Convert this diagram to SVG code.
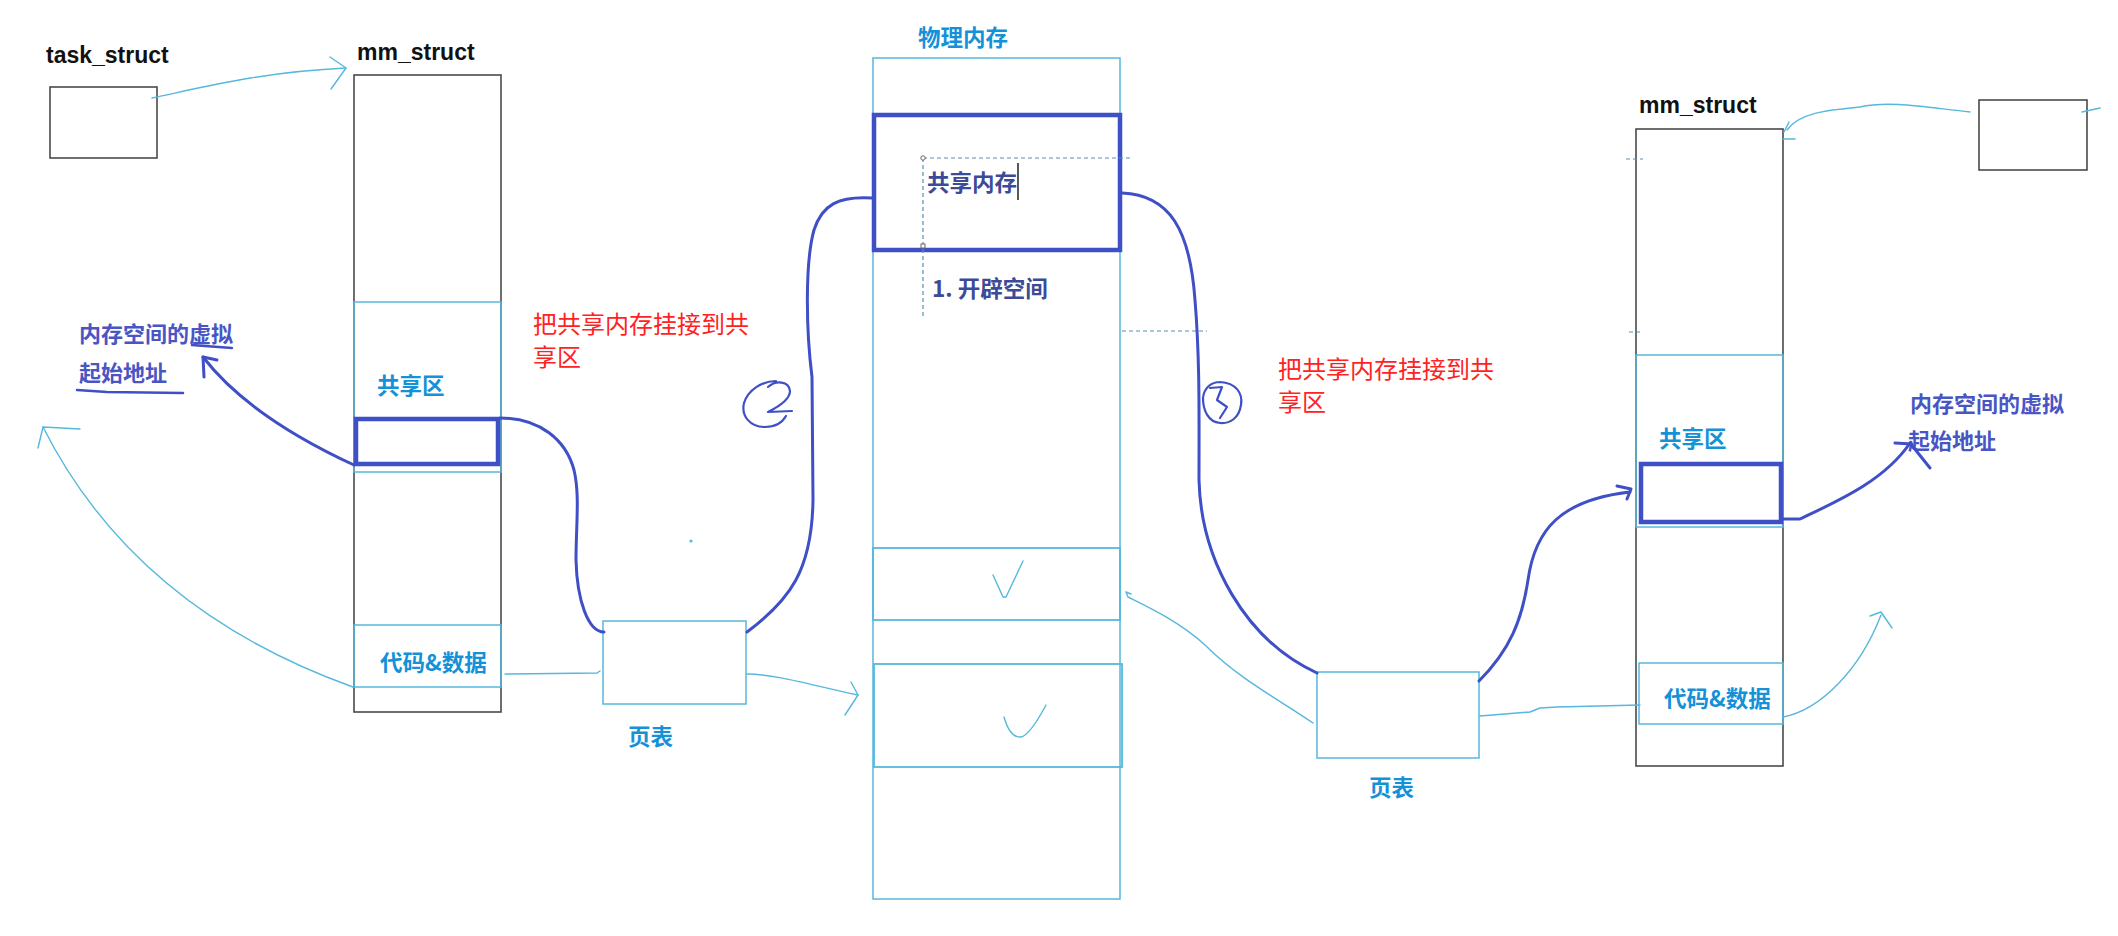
<svg xmlns="http://www.w3.org/2000/svg" width="2118" height="936" viewBox="0 0 2118 936">
<style>
.bg{fill:#ffffff}
.gray{fill:none;stroke:#4a4a4a;stroke-width:1.6}
.lb{fill:none;stroke:#55b8dc;stroke-width:1.5}
.ind{fill:none;stroke:#3f4fc6;stroke-width:4.5}
.hand{fill:none;stroke:#3f4fc6;stroke-width:3;stroke-linecap:round;stroke-linejoin:round}
.thin{fill:none;stroke:#55b8dc;stroke-width:1.4;stroke-linecap:round;stroke-linejoin:round}
.dash{fill:none;stroke:#5a8fb0;stroke-width:1.2;stroke-dasharray:4 3}
.en{font-family:"Liberation Sans",Arial,sans-serif;font-weight:bold;font-size:23px;fill:#111}
.lbl{font-family:"Noto Sans CJK SC","Noto Sans",sans-serif;font-weight:bold;font-size:22.5px;fill:#1591d8}
.ann{font-family:"Noto Sans CJK SC","Noto Sans",sans-serif;font-weight:bold;font-size:22px;fill:#4a55c4}
.dk{font-family:"Noto Sans CJK SC","Noto Sans",sans-serif;font-weight:bold;font-size:22.5px;fill:#3c4a98}
.red{font-family:"Noto Sans CJK SC","Noto Sans",sans-serif;font-size:24px;fill:#ff2222}
</style>
<rect class="bg" x="0" y="0" width="2118" height="936"/>

<g id="task_struct_left">
<text class="en" x="46" y="63">task_struct</text>
<rect class="gray" x="50" y="87" width="107" height="71"/>
</g>

<g id="mm_struct_left">
<text class="en" x="357" y="60">mm_struct</text>
<rect class="gray" x="354" y="75" width="147" height="637"/>
<rect class="lb" x="354" y="302" width="147" height="170"/>
<text class="lbl" x="377" y="394">共享区</text>
<rect class="ind" x="356" y="419" width="142" height="45"/>
<rect class="lb" x="354" y="625" width="147" height="62"/>
<text class="lbl" x="380" y="671">代码&amp;数据</text>
</g>

<g id="annotation_left">
<text class="ann" x="79" y="342">内存空间的虚拟</text>
<text class="ann" x="79" y="381">起始地址</text>
<path class="hand" style="stroke-width:2.5" d="M192,345 L205,346 L232,348"/>
<path class="hand" style="stroke-width:2.5" d="M77,390 L107,392 L183,393"/>
</g>

<g id="red_note_left">
<text class="red" x="533" y="333">把共享内存挂接到共</text>
<text class="red" x="533" y="366">享区</text>
</g>

<g id="page_table_left">
<rect class="lb" x="603" y="621" width="143" height="83"/>
<text class="lbl" x="628" y="745">页表</text>
</g>

<g id="phys_mem">
<text class="lbl" x="918" y="46">物理内存</text>
<rect class="lb" x="873" y="58" width="247" height="841"/>
<rect class="ind" x="874" y="115" width="246" height="135"/>
<path class="dash" d="M923,158 L1133,158 M923,158 L923,317 M1122,331 L1207,331"/>
<circle cx="923" cy="158" r="2.2" fill="#fff" stroke="#666" stroke-width="1"/>
<rect x="921" y="244" width="4" height="4" fill="#fff" stroke="#666" stroke-width="1"/>
<text class="dk" x="927" y="191">共享内存</text>
<line x1="1018" y1="163" x2="1018" y2="200" stroke="#222" stroke-width="1.5"/>
<text class="dk" x="932" y="297">1. 开辟空间</text>
<rect class="lb" x="873" y="548" width="247" height="72" style="stroke-width:1.8"/>
<rect class="lb" x="874" y="664" width="248" height="103" style="stroke-width:1.8"/>
<path class="thin" d="M993,575 L1003,597 L1006,597 L1023,561"/>
<path class="thin" d="M1004,717 Q1010,738 1021,737 Q1030,735 1046,705"/>
</g>

<g id="red_note_right">
<text class="red" x="1278" y="378">把共享内存挂接到共</text>
<text class="red" x="1278" y="411">享区</text>
</g>

<g id="page_table_right">
<rect class="lb" x="1317" y="672" width="162" height="86"/>
<text class="lbl" x="1369" y="796">页表</text>
</g>

<g id="mm_struct_right">
<text class="en" x="1639" y="113">mm_struct</text>
<rect class="gray" x="1636" y="129" width="147" height="637"/>
<rect class="lb" x="1636" y="355" width="147" height="172"/>
<text class="lbl" x="1659" y="447">共享区</text>
<rect class="ind" x="1641" y="464" width="140" height="58"/>
<rect class="lb" x="1639" y="663" width="144" height="61"/>
<text class="lbl" x="1664" y="707">代码&amp;数据</text>
<path class="dash" d="M1626,159 L1643,159 M1629,332 L1640,332"/>
</g>

<g id="annotation_right">
<text class="ann" x="1910" y="412">内存空间的虚拟</text>
<text class="ann" x="1908" y="449">起始地址</text>
</g>

<g id="task_struct_right">
<rect class="gray" x="1979" y="100" width="108" height="70"/>
</g>

<g id="connectors">
<!-- task_struct -> mm_struct (left) -->
<path class="thin" d="M152,98 C200,88 260,72 346,68"/>
<path class="thin" d="M330,57 L346,68 L331,89"/>
<!-- left shared region -> virtual start address -->
<path class="hand" d="M354,465 C300,440 240,405 203,357"/>
<path class="hand" d="M204,377 L203,357 L217,360"/>
<!-- left code&data -> up-left arrow -->
<path class="thin" d="M353,687 C250,650 120,580 43,427"/>
<path class="thin" d="M80,429 L43,427 L38,448"/>
<!-- left shared region -> left page table -->
<path class="hand" d="M500,418 C540,418 566,440 574,470 C580,495 576,525 576,560 C577,600 588,632 604,632"/>
<!-- left code&data -> left page table -->
<path class="thin" d="M505,674 L597,673 L600,671"/>
<!-- left page table -> phys memory section 2 -->
<path class="thin" d="M747,674 C775,674 815,686 858,695"/>
<path class="thin" d="M851,682 L858,695 L845,715"/>
<!-- curve 2: left page table -> shared memory -->
<path class="hand" d="M747,632 C790,600 812,570 813,500 L812,377 C806,330 805,262 814,230 C822,205 838,196 872,198"/>
<path class="hand" style="stroke-width:2.2" d="M776,381 C762,381 748,390 744,403 C741,416 750,427 765,427 C775,427 782,423 786,416 M768,387 C776,380 789,381 790,391 C790,400 778,407 768,412 L792,411"/>
<circle cx="691" cy="541" r="1.6" fill="#55b8dc"/>
<!-- curve 3: shared memory -> right page table -->
<path class="hand" d="M1122,193 C1170,195 1190,230 1195,300 C1200,360 1199,420 1199,480 C1201,560 1245,640 1317,673"/>
<path class="hand" style="stroke-width:2.2" d="M1220,382 C1236,383 1243,393 1241,405 C1239,418 1230,424 1220,423 C1208,422 1203,410 1203,398 C1204,388 1211,382 1220,382 M1210,388 L1222,387 L1217,400 L1227,407 L1220,418"/>
<!-- right page table -> phys memory section 1 -->
<path class="thin" d="M1313,723 C1280,700 1240,680 1205,645 C1180,622 1150,608 1128,597 L1126,592 L1131,594"/>
<!-- right page table -> right shared region -->
<path class="hand" d="M1479,681 C1510,650 1522,620 1528,580 C1535,530 1560,500 1630,492"/>
<path class="hand" d="M1617,486 L1631,489 L1627,499"/>
<!-- right page table -> right code&data -->
<path class="thin" d="M1480,716 L1530,712 L1540,708 L1557,707 L1640,705"/>
<!-- right code&data -> up arrow -->
<path class="thin" d="M1783,717 C1820,710 1860,670 1881,615"/>
<path class="thin" d="M1870,616 L1881,612 L1892,628"/>
<!-- right shared region -> virtual start address -->
<path class="hand" d="M1783,519 L1800,519 C1840,500 1885,480 1910,443"/>
<path class="hand" d="M1895,443 L1912,444 M1910,443 L1930,468"/>
<!-- right task_struct -> right mm_struct -->
<path class="thin" d="M1970,112 C1930,108 1890,100 1860,107 C1830,110 1800,112 1787,130"/>
<path class="thin" d="M1789,122 L1784,132 M1783,139 L1795,139 M2082,112 L2100,108"/>
</g>
</svg>
